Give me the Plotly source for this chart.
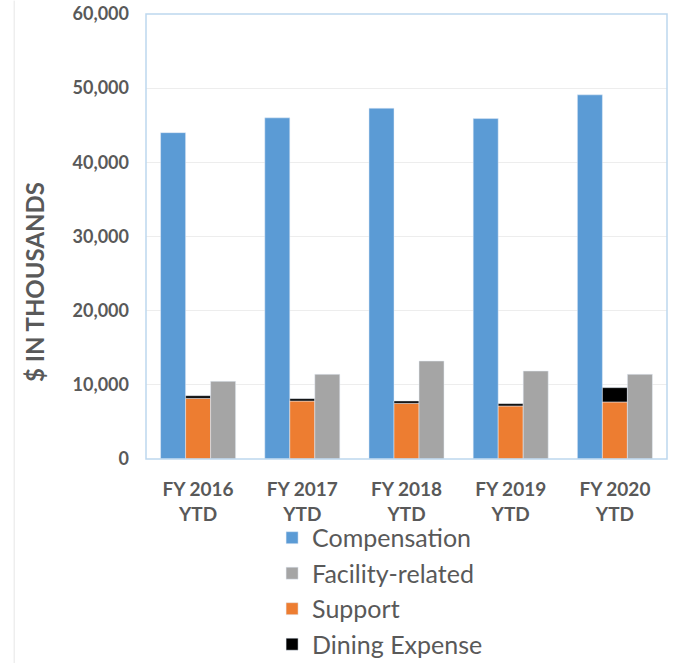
import plotly.graph_objects as go

categories = ["FY 2016<br>YTD", "FY 2017<br>YTD", "FY 2018<br>YTD", "FY 2019<br>YTD", "FY 2020<br>YTD"]
compensation = [44000, 46000, 47300, 45900, 49100]
support = [8180, 7820, 7510, 7150, 7690]
dining = [350, 310, 310, 310, 1930]
facility = [10470, 11420, 13210, 11860, 11420]

fig = go.Figure()
fig.add_trace(go.Bar(name="Compensation", x=categories, y=compensation, offsetgroup="1",
                     marker=dict(color="#5B9BD5"), legendrank=1))
fig.add_trace(go.Bar(name="Support", x=categories, y=support, offsetgroup="2",
                     marker=dict(color="#ED7D31"), legendrank=3))
fig.add_trace(go.Bar(name="Dining Expense", x=categories, y=dining, base=support, offsetgroup="2",
                     marker=dict(color="#000000"), legendrank=4))
fig.add_trace(go.Bar(name="Facility-related", x=categories, y=facility, offsetgroup="3",
                     marker=dict(color="#A5A5A5"), legendrank=2))

fig.update_layout(
    width=674, height=663,
    margin=dict(l=146, r=7, t=14, b=204, autoexpand=False),
    paper_bgcolor="white", plot_bgcolor="white",
    barmode="group", bargap=0.28, bargroupgap=0,
    font=dict(family="Lato", color="#595959"),
    showlegend=True,
    legend=dict(orientation="v", xref="paper", x=0.242, xanchor="left",
                yref="container", y=0.2233, yanchor="top",
                bgcolor="rgba(0,0,0,0)",
                font=dict(size=25, color="#595959", family="Lato"), traceorder="normal",
                itemclick=False),
    xaxis=dict(showgrid=False, tickfont=dict(size=19, family="Lato", weight="bold"),
               ticks="", showline=False, ticklabelstandoff=17, automargin=False),
    yaxis=dict(range=[0, 60000], dtick=10000, tickformat=",", showgrid=True,
               gridcolor="#EDEDED", zeroline=False,
               tickfont=dict(size=18, family="Lato", weight="bold"),
               ticklabelstandoff=16, automargin=False),
    annotations=[
        dict(text="<b>$ IN THOUSANDS</b>", xref="paper", yref="paper",
             x=-0.215, y=(459 - 282) / 445, xanchor="center", yanchor="middle",
             textangle=-90, showarrow=False,
             font=dict(size=24, family="Lato", color="#595959")),
    ],
    shapes=[
        dict(type="rect", xref="paper", yref="paper", x0=0, x1=1, y0=0, y1=1,
             line=dict(color="#BDD7EE", width=1.5), fillcolor="rgba(0,0,0,0)", layer="above"),
        dict(type="line", xref="paper", yref="paper", x0=-0.253, x1=-0.253, y0=-0.46, y1=1.03,
             line=dict(color="#E6E6E6", width=1)),
    ],
)

fig.write_html("out.html", config={"displayModeBar": False},
               post_script="document.body.style.margin='0';document.body.style.overflow='hidden';")
